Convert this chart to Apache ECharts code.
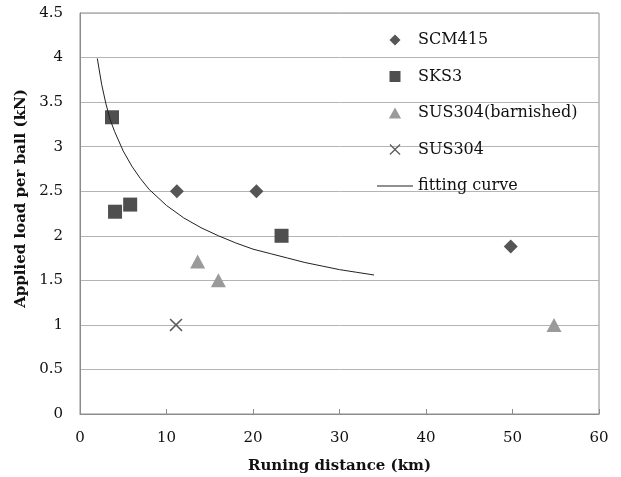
<!DOCTYPE html>
<html>
<head>
<meta charset="utf-8">
<script src="https://cdn.jsdelivr.net/npm/echarts@6/dist/echarts.min.js"></script>
<style>html,body{margin:0;padding:0;background:#fff}#c{width:621px;height:477px}</style>
</head>
<body>
<div id="c"></div>
<script>
// ---- data ----
const scm415 = [[11.2, 2.5], [20.4, 2.5], [49.8, 1.88]];
const sks3 = [[3.7, 3.33], [4.05, 2.27], [5.8, 2.35], [23.3, 2.0]];
const sus304b = [[13.6, 1.71], [16.0, 1.5], [54.8, 1.0]];
const sus304 = [[11.1, 1.0]];
const curveX = [2.0, 2.5, 3.0, 3.5, 4.0, 5.0, 6.0, 7.0, 8.0, 10, 12, 14, 16, 18, 20, 22, 24, 26, 28, 30, 32, 34];
const curveY = [3.99, 3.70, 3.48, 3.30, 3.17, 2.95, 2.78, 2.64, 2.52, 2.34, 2.20, 2.09, 2.00, 1.92, 1.85, 1.80, 1.75, 1.70, 1.66, 1.62, 1.59, 1.56];
const seriesNames = ['SCM415', 'SKS3', 'SUS304(barnished)', 'SUS304', 'fitting curve'];
const xTitle = 'Runing distance (km)';
const yTitle = 'Applied load per ball (kN)';

const crossPath = 'path://M0,0.8L0.8,0L5,4.2L9.2,0L10,0.8L5.8,5L10,9.2L9.2,10L5,5.8L0.8,10L0,9.2L4.2,5Z';
const diamondPath = 'path://M5,0L10,5L5,10L0,5Z';
const rectPath = 'path://M0,0L10,0L10,10L0,10Z';
const triPath = 'path://M5,0L10,9L0,9Z';
const linePath = 'path://M0,0L40,0L40,1L0,1Z';
const FONT = 'DejaVu Serif';

const chart = echarts.init(document.getElementById('c'), null, {renderer: 'canvas'});
chart.setOption({
  backgroundColor: '#fff',
  animation: false,
  textStyle: {fontFamily: FONT},
  grid: {left: 80, right: 22, top: 13, bottom: 63, show: true, borderColor: '#8c8c8c', borderWidth: 1,
    backgroundColor: 'transparent', outerBoundsMode: 'none', containLabel: false},
  legend: {
    orient: 'vertical', left: 377, top: 32, padding: 0,
    itemWidth: 36, itemHeight: 11, itemGap: 20.5,
    symbolKeepAspect: true,
    textStyle: {fontFamily: FONT, fontSize: 16, color: '#111', lineHeight: 16},
    data: [
      {name: seriesNames[0], icon: diamondPath},
      {name: seriesNames[1], icon: rectPath},
      {name: seriesNames[2], icon: triPath},
      {name: seriesNames[3], icon: crossPath},
      {name: seriesNames[4], icon: linePath}
    ]
  },
  xAxis: {
    type: 'value', min: 0, max: 60, interval: 10,
    name: xTitle, nameLocation: 'middle', nameGap: 45,
    nameTextStyle: {fontFamily: FONT, fontSize: 15, fontWeight: 'bold', color: '#111'},
    axisLine: {show: true, lineStyle: {color: '#8c8c8c'}},
    axisTick: {show: true, inside: true, length: 5, lineStyle: {color: '#8c8c8c'}},
    axisLabel: {fontFamily: FONT, fontSize: 15, color: '#111', margin: 17},
    splitLine: {show: false}
  },
  yAxis: {
    type: 'value', min: 0, max: 4.5, interval: 0.5,
    name: yTitle, nameLocation: 'middle', nameGap: 44, nameRotate: 90,
    nameTextStyle: {fontFamily: FONT, fontSize: 15, fontWeight: 'bold', color: '#111', padding: [0, 0, 0, 30]},
    axisLine: {show: true, lineStyle: {color: '#8c8c8c'}},
    axisTick: {show: false},
    axisLabel: {fontFamily: FONT, fontSize: 15, color: '#111', margin: 17},
    splitLine: {show: true, lineStyle: {color: '#b4b4b4', width: 1}}
  },
  series: [
    {name: seriesNames[0], type: 'scatter', data: scm415, symbol: 'diamond', symbolSize: [14, 14], itemStyle: {color: '#555555', opacity: 1}},
    {name: seriesNames[1], type: 'scatter', data: sks3, symbol: 'rect', symbolSize: 14, itemStyle: {color: '#4f4f4f', opacity: 1}},
    {name: seriesNames[2], type: 'scatter', data: sus304b, symbol: 'triangle', symbolSize: [15, 14], itemStyle: {color: '#9a9a9a', opacity: 1}},
    {name: seriesNames[3], type: 'scatter', data: sus304, symbol: crossPath, symbolSize: 13, itemStyle: {color: '#5a5a5a', opacity: 1}},
    {name: seriesNames[4], type: 'line', data: curveX.map((x, i) => [x, curveY[i]]), symbol: 'none', smooth: false,
      lineStyle: {color: '#222', width: 1}, itemStyle: {color: '#222'}}
  ]
});
</script>
</body>
</html>
